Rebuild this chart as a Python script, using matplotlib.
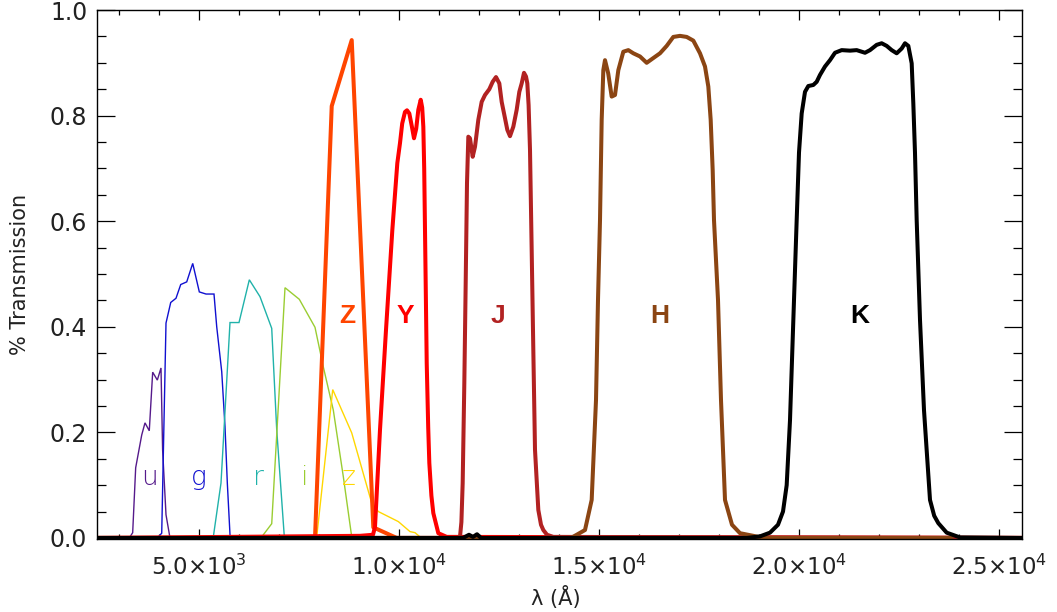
import matplotlib
matplotlib.use("Agg")
import matplotlib.pyplot as plt
from matplotlib.ticker import MultipleLocator, FixedLocator, FixedFormatter

# ---------------- data (wavelength in Angstrom, transmission fraction) ----------------
lam_u = [3275, 3342, 3417, 3568, 3650, 3757, 3842, 3958, 4050, 4090, 4175, 4275]
trn_u = [0.002, 0.010, 0.133, 0.195, 0.218, 0.203, 0.314, 0.299, 0.322, 0.167, 0.044, 0.0]

lam_g = [3983, 4068, 4175, 4293, 4425, 4543, 4693, 4843, 5008, 5175, 5375, 5443, 5568, 5650, 5708, 5775]
trn_g = [0.002, 0.009, 0.407, 0.446, 0.454, 0.480, 0.485, 0.520, 0.466, 0.462, 0.462, 0.400, 0.315, 0.211, 0.104, 0.006]

lam_r = [5358, 5550, 5775, 6000, 6258, 6525, 6818, 6943, 7133]
trn_r = [0.002, 0.104, 0.408, 0.408, 0.489, 0.457, 0.397, 0.205, 0.002]

lam_i = [6568, 6818, 7150, 7508, 7900, 8108, 8358, 8608, 8818]
trn_i = [0.002, 0.027, 0.474, 0.452, 0.399, 0.324, 0.242, 0.116, 0.002]

lam_z = [7943, 8343, 8818, 9318, 9483, 9983, 10275, 10400, 10525]
trn_z = [0.002, 0.281, 0.199, 0.066, 0.050, 0.031, 0.012, 0.010, 0.002]

lam_Z = [2450, 7900, 8318, 8818, 9358, 9943, 25600]
trn_Z = [0.0, 0.0, 0.818, 0.943, 0.020, 0.0, 0.0]

lam_Y = [2450, 9025, 9350, 9400, 9525, 9675, 9833, 9958, 10025, 10080, 10150, 10200, 10258, 10320,
         10375, 10430, 10483, 10543, 10580, 10608, 10630, 10650, 10693, 10730, 10758, 10810,
         10858, 10983, 11193, 25600]
trn_Y = [0.0, 0.004, 0.006, 0.021, 0.205, 0.394, 0.583, 0.710, 0.748, 0.785, 0.807, 0.810, 0.804,
         0.780, 0.757, 0.775, 0.811, 0.830, 0.815, 0.779, 0.700, 0.583, 0.331, 0.210, 0.142,
         0.080, 0.047, 0.009, 0.002, 0.0]

lam_J = [2450, 11450, 11525, 11560, 11592, 11633, 11667, 11700, 11733, 11775, 11842, 11900, 11983,
         12067, 12150, 12258, 12342, 12425, 12508, 12567, 12650, 12708, 12775, 12858, 12942,
         13008, 13067, 13125, 13175, 13208, 13240, 13275, 13317, 13358, 13400, 13483, 13550,
         13608, 13700, 13858, 25600]
trn_J = [0.0, 0.0, 0.002, 0.030, 0.104, 0.293, 0.482, 0.672, 0.760, 0.757, 0.722, 0.741, 0.792,
         0.826, 0.839, 0.850, 0.864, 0.873, 0.861, 0.826, 0.795, 0.773, 0.761, 0.779, 0.811,
         0.845, 0.861, 0.881, 0.874, 0.861, 0.820, 0.735, 0.545, 0.356, 0.167, 0.053, 0.025,
         0.015, 0.006, 0.002, 0.0]

lam_H = [2450, 14300, 14442, 14650, 14817, 14925, 14975, 15025, 15067, 15108, 15150, 15230, 15317,
         15400, 15483, 15608, 15733, 15858, 16025, 16192, 16358, 16525, 16692, 16858, 17025,
         17192, 17358, 17525, 17650, 17733, 17792, 17842, 17875, 17975, 18050, 18150, 18325,
         18525, 18858, 19100, 23800]
trn_H = [0.0, 0.0, 0.006, 0.015, 0.072, 0.261, 0.451, 0.602, 0.792, 0.886, 0.905, 0.880, 0.836,
         0.839, 0.886, 0.921, 0.924, 0.918, 0.912, 0.900, 0.909, 0.918, 0.932, 0.949, 0.951,
         0.949, 0.942, 0.918, 0.893, 0.855, 0.792, 0.697, 0.602, 0.451, 0.261, 0.072, 0.025,
         0.009, 0.004, 0.0, 0.0]

lam_K = [2450, 11600, 11750, 11850, 11950, 12050, 18700, 19025, 19275, 19475, 19600, 19692, 19775,
         19850, 19942, 20000, 20067, 20150, 20233, 20358, 20442, 20525, 20650, 20775, 20900,
         21067, 21275, 21442, 21650, 21775, 21942, 22067, 22192, 22317, 22442, 22567, 22650,
         22733, 22817, 22858, 22900, 22942, 23025, 23125, 23275, 23380, 23483, 23692, 24025,
         25600]
trn_K = [0.0, 0.0, 0.006, 0.002, 0.007, 0.0, 0.0, 0.003, 0.010, 0.025, 0.050, 0.100, 0.223,
         0.394, 0.602, 0.730, 0.804, 0.845, 0.856, 0.858, 0.864, 0.877, 0.893, 0.905, 0.919,
         0.924, 0.923, 0.924, 0.919, 0.924, 0.934, 0.937, 0.932, 0.924, 0.918, 0.927, 0.937,
         0.932, 0.899, 0.823, 0.729, 0.602, 0.413, 0.242, 0.072, 0.042, 0.028, 0.010, 0.001,
         0.0]

small_names = ['u', 'g', 'r', 'i', 'z']
small_label_lam = [3775, 4983, 6483, 7650, 8750]
small_label_y = 0.114

big_names = ['Z', 'Y', 'J', 'H', 'K']
big_label_lam = [8700, 10150, 12475, 16525, 21525]
big_label_y = 0.42

xtick_vals = [5000, 10000, 15000, 20000, 25000]
xtick_labels = ['5.0×10$^{3}$', '1.0×10$^{4}$', '1.5×10$^{4}$', '2.0×10$^{4}$', '2.5×10$^{4}$']
ytick_vals = [0.0, 0.2, 0.4, 0.6, 0.8, 1.0]
ytick_labels = ['0.0', '0.2', '0.4', '0.6', '0.8', '1.0']

# ---------------- styling ----------------
small_colors = ['#551A8B', '#1010D0', '#20B2AA', '#9ACD32', '#FFD700']
big_colors = ['#FF4500', '#FF0000', '#B22222', '#8B4513', '#000000']

plt.rcParams['font.family'] = ['DejaVu Sans']
plt.rcParams['mathtext.fontset'] = 'dejavusans'

W, H = 1057, 612
fig = plt.figure(figsize=(W / 100, H / 100), dpi=100)
ax = fig.add_axes([97 / W, 1 - 539 / H, (1022 - 97) / W, (539 - 10) / H])

small_data = [(lam_u, trn_u), (lam_g, trn_g), (lam_r, trn_r), (lam_i, trn_i), (lam_z, trn_z)]
big_data = [(lam_Z, trn_Z), (lam_Y, trn_Y), (lam_J, trn_J), (lam_H, trn_H), (lam_K, trn_K)]

for (lx, ty), c in zip(small_data, small_colors):
    ax.plot(lx, ty, color=c, lw=1.0, solid_joinstyle='miter')
for (lx, ty), c in zip(big_data, big_colors):
    ax.plot(lx, ty, color=c, lw=2.9, solid_joinstyle='round')

for name, lx, c in zip(small_names, small_label_lam, small_colors):
    ax.text(lx, small_label_y, name, color=c, fontsize=19, ha='center', va='center',
            fontweight='light')
for name, lx, c in zip(big_names, big_label_lam, big_colors):
    ax.text(lx, big_label_y, name, color=c, fontsize=19, ha='center', va='center',
            fontweight='bold', family='Liberation Sans')

ax.set_xlim(2450, 25575)
ax.set_ylim(-0.002, 1.0)

ax.xaxis.set_major_locator(FixedLocator(xtick_vals))
ax.xaxis.set_major_formatter(FixedFormatter(xtick_labels))
ax.xaxis.set_minor_locator(MultipleLocator(1000))
ax.yaxis.set_major_locator(FixedLocator(ytick_vals))
ax.yaxis.set_major_formatter(FixedFormatter(ytick_labels))
ax.yaxis.set_minor_locator(MultipleLocator(0.05))

ax.tick_params(axis='both', which='both', direction='in', top=True, right=True,
               colors='black', labelcolor='#222222', width=0.9)
ax.tick_params(axis='x', which='major', length=7.5, pad=11, labelsize=16.5)
ax.tick_params(axis='x', which='minor', length=3.6)
ax.tick_params(axis='y', which='major', length=13, pad=7, labelsize=17)
ax.tick_params(axis='y', which='minor', length=6.5)
for s in ax.spines.values():
    s.set_linewidth(1.0)

fig.text(20 / W, 1 - 274.5 / H, '% Transmission', rotation=90, ha='center', va='center',
         fontsize=15, color='#222222')
fig.text(556 / W, 1 - 597 / H, 'λ (Å)', ha='center', va='center', fontsize=15, color='#222222')

fig.savefig('out.png', dpi=100)
